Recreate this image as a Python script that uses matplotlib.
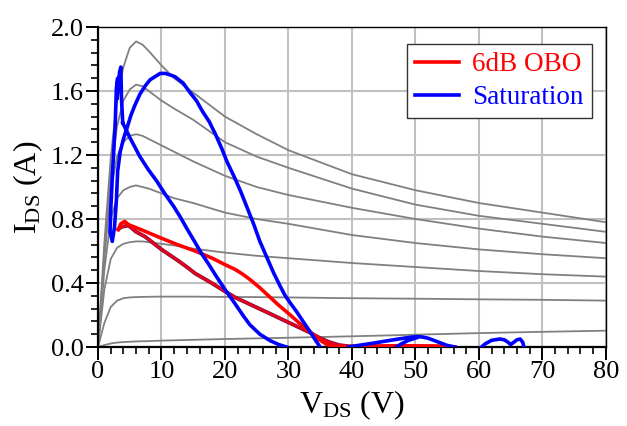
import numpy as np
import matplotlib
matplotlib.use('Agg')
import matplotlib.pyplot as plt
from matplotlib.ticker import MultipleLocator, FormatStrFormatter

plt.rcParams['font.family'] = ['Liberation Serif', 'DejaVu Serif']
plt.rcParams['mathtext.fontset'] = 'custom'
plt.rcParams['mathtext.rm'] = 'Liberation Serif'
plt.rcParams['mathtext.it'] = 'Liberation Serif:italic'

#DC I-V family (gray)
iv_v = [0, 1, 2, 3, 4, 5, 6, 7, 8, 10, 12, 15, 20, 25, 30, 40, 50, 60, 70, 80]
iv_curves = [
    [0, 0.65, 1.18, 1.55, 1.75, 1.87, 1.91, 1.89, 1.85, 1.76, 1.68, 1.59, 1.44, 1.33, 1.23, 1.08, 0.98, 0.90, 0.84, 0.78],
    [0, 0.60, 1.08, 1.38, 1.54, 1.61, 1.64, 1.63, 1.60, 1.54, 1.49, 1.42, 1.28, 1.19, 1.12, 0.99, 0.89, 0.82, 0.77, 0.72],
    [0, 0.55, 0.98, 1.19, 1.28, 1.32, 1.33, 1.32, 1.30, 1.26, 1.22, 1.16, 1.07, 1.00, 0.95, 0.87, 0.80, 0.74, 0.69, 0.65],
    [0, 0.48, 0.80, 0.93, 0.98, 1.00, 1.01, 1.00, 0.99, 0.96, 0.93, 0.90, 0.84, 0.80, 0.77, 0.70, 0.65, 0.61, 0.58, 0.555],
    [0, 0.36, 0.55, 0.62, 0.645, 0.655, 0.66, 0.66, 0.655, 0.645, 0.635, 0.615, 0.59, 0.57, 0.555, 0.525, 0.50, 0.475, 0.455, 0.44],
    [0, 0.15, 0.25, 0.29, 0.305, 0.31, 0.312, 0.313, 0.314, 0.315, 0.315, 0.315, 0.313, 0.312, 0.31, 0.305, 0.302, 0.298, 0.295, 0.29],
    [0, 0.012, 0.022, 0.028, 0.031, 0.033, 0.035, 0.036, 0.037, 0.040, 0.042, 0.045, 0.050, 0.054, 0.058, 0.067, 0.077, 0.087, 0.095, 0.102],
]

#6dB OBO load line (red): outgoing branch and return branch
obo_up_v = [3.2, 3.6, 4.2, 4.8, 7.0, 10.0, 12.5, 15.3, 18.0, 20.0, 21.6, 22.8, 24.0, 25.5, 27.0, 28.5,
            30.0, 31.7, 33.4, 34.7, 36.0, 37.0, 38.0, 42, 48, 55, 56.2]
obo_up_i = [0.735, 0.77, 0.785, 0.765, 0.73, 0.68, 0.64, 0.60, 0.555, 0.515, 0.485, 0.455, 0.42, 0.37, 0.315, 0.26,
            0.21, 0.15, 0.095, 0.05, 0.017, 0.005, 0.002, 0.006, 0.008, 0.006, 0.0]
obo_dn_v = [56.2, 50, 45, 40, 38, 36.5, 35, 33.4, 30.2, 27, 24.3, 21.6, 19.7, 17.9, 16.6, 15.3, 14.0,
            12.6, 11.3, 10.0, 8.7, 7.4, 6.0, 4.8, 3.6, 3.2]
obo_dn_i = [0.0, 0.002, 0.002, 0.002, 0.012, 0.03, 0.055, 0.09, 0.15, 0.21, 0.26, 0.31, 0.355, 0.40, 0.43, 0.46, 0.50,
            0.54, 0.575, 0.61, 0.65, 0.69, 0.72, 0.76, 0.75, 0.735]

#Saturation load line (blue), segments split by nan
sat_v = [3.9, 3.7, 3.6, 3.4, 3.0, 3.1, 2.9, 2.7, 2.3, 2.0, 1.9, 2.25, 2.6, 2.9, 3.1, 3.5, 4.0, 4.5, 5.2, 5.8,
         6.6, 7.4, 8.2, 9.0, 9.8, 10.6, 11.4, 12.1, 13.4, 14.5, 15.5, 16.5, 17.5, 18.5, 19.5, 20.3, 21.5,
         22.5, 23.5, 24.5, 25.5, 26.6, 27.7, 28.7, 29.5, 30.2, 31.3, 32.3, 33.5, 34.3, 35.0, np.nan,
         3.9, 4.4, 5.0, 5.8, 6.6, 7.9, 9.2, 10.5, 11.9, 13.0, 14.0, 15.2, 16.3, 17.4, 18.5, 20.0, 21.6,
         22.8, 23.9, 25.5, 27.1, 28.5, 29.7, np.nan,
         39.4, 41, 43, 45, 47, 49, 50.2, 51, 52, 53, 54, 55, 56.2, np.nan,
         47.0, 47.8, 48.8, 50.2, np.nan,
         60.4, 61, 62, 63.3, 64, 64.6, 65.0, 65.5, 66, 66.5, 66.9, 67.1]
sat_i = [1.40, 1.55, 1.75, 1.72, 1.55, 1.68, 1.62, 1.38, 1.10, 0.85, 0.72, 0.66, 0.75, 0.92, 1.10, 1.22, 1.30, 1.36, 1.45, 1.51,
         1.58, 1.63, 1.67, 1.69, 1.71, 1.71, 1.70, 1.69, 1.65, 1.59, 1.54, 1.47, 1.41, 1.33, 1.24, 1.16, 1.06,
         0.97, 0.87, 0.77, 0.66, 0.56, 0.46, 0.38, 0.32, 0.28, 0.22, 0.16, 0.09, 0.04, 0.0, np.nan,
         1.40, 1.36, 1.31, 1.25, 1.19, 1.11, 1.04, 0.96, 0.88, 0.81, 0.74, 0.66, 0.585, 0.52, 0.45, 0.36, 0.27,
         0.20, 0.14, 0.08, 0.04, 0.015, 0.0, np.nan,
         0.0, 0.01, 0.022, 0.035, 0.048, 0.06, 0.065, 0.063, 0.055, 0.04, 0.025, 0.01, 0.0, np.nan,
         0.0, 0.02, 0.04, 0.058, np.nan,
         0.0, 0.02, 0.042, 0.05, 0.045, 0.03, 0.015, 0.03, 0.045, 0.05, 0.03, 0.0]

fig = plt.figure(figsize=(6.27, 4.26), dpi=100)
ax = fig.add_axes([0.1563, 0.1854, 0.81, 0.7512])

for cur in iv_curves:
    ax.plot(iv_v, cur, color='#808080', lw=1.3, zorder=2)

ax.plot(obo_dn_v, obo_dn_i, color='#80103a', lw=2.8, zorder=3, solid_joinstyle='round')
ax.plot(obo_dn_v, obo_dn_i, color='#e8001c', lw=1.7, zorder=3, solid_joinstyle='round')
ax.plot(obo_up_v, obo_up_i, color='#ff0000', lw=2.6, zorder=4, label='6dB OBO', solid_joinstyle='round')
ax.plot(sat_v, sat_i, color='#0000ff', lw=2.6, zorder=5, label='Saturation', solid_joinstyle='round')

ax.set_xlim(0, 80)
ax.set_ylim(0, 2.0)
ax.xaxis.set_major_locator(MultipleLocator(10))
ax.xaxis.set_minor_locator(MultipleLocator(2))
ax.yaxis.set_major_locator(MultipleLocator(0.4))
ax.yaxis.set_minor_locator(MultipleLocator(0.08))
ax.yaxis.set_major_formatter(FormatStrFormatter('%.1f'))
ax.grid(True, which='major', color='#c0c0c0', lw=1.5, zorder=0)
ax.set_axisbelow(True)
ax.tick_params(which='major', direction='out', length=9, width=1.4, labelsize=19, pad=1)
ax.tick_params(which='minor', direction='out', length=5, width=1.2)
for s in ax.spines.values():
    s.set_color('black')
    s.set_linewidth(1.0)
ax.spines['left'].set_linewidth(1.6)
ax.spines['bottom'].set_linewidth(1.6)

ax.set_xlabel(r'V$_{\mathregular{DS}}$ (V)', fontsize=23, labelpad=4)
ax.set_ylabel(r'I$_{\mathregular{DS}}$ (A)', fontsize=23, labelpad=4)

leg = ax.legend(loc='upper right', bbox_to_anchor=(0.972, 0.947), fontsize=19.5, frameon=True, fancybox=False,
                handlelength=1.6, handletextpad=0.5, labelspacing=0.3, borderpad=0.3, borderaxespad=0)
leg.get_frame().set_edgecolor('#333333')
leg.get_frame().set_linewidth(1.0)
leg.get_frame().set_alpha(1)
for t, c in zip(leg.get_texts(), ['#ff0000', '#0000ff']):
    t.set_color(c)

fig.savefig('out.png', dpi=100)
